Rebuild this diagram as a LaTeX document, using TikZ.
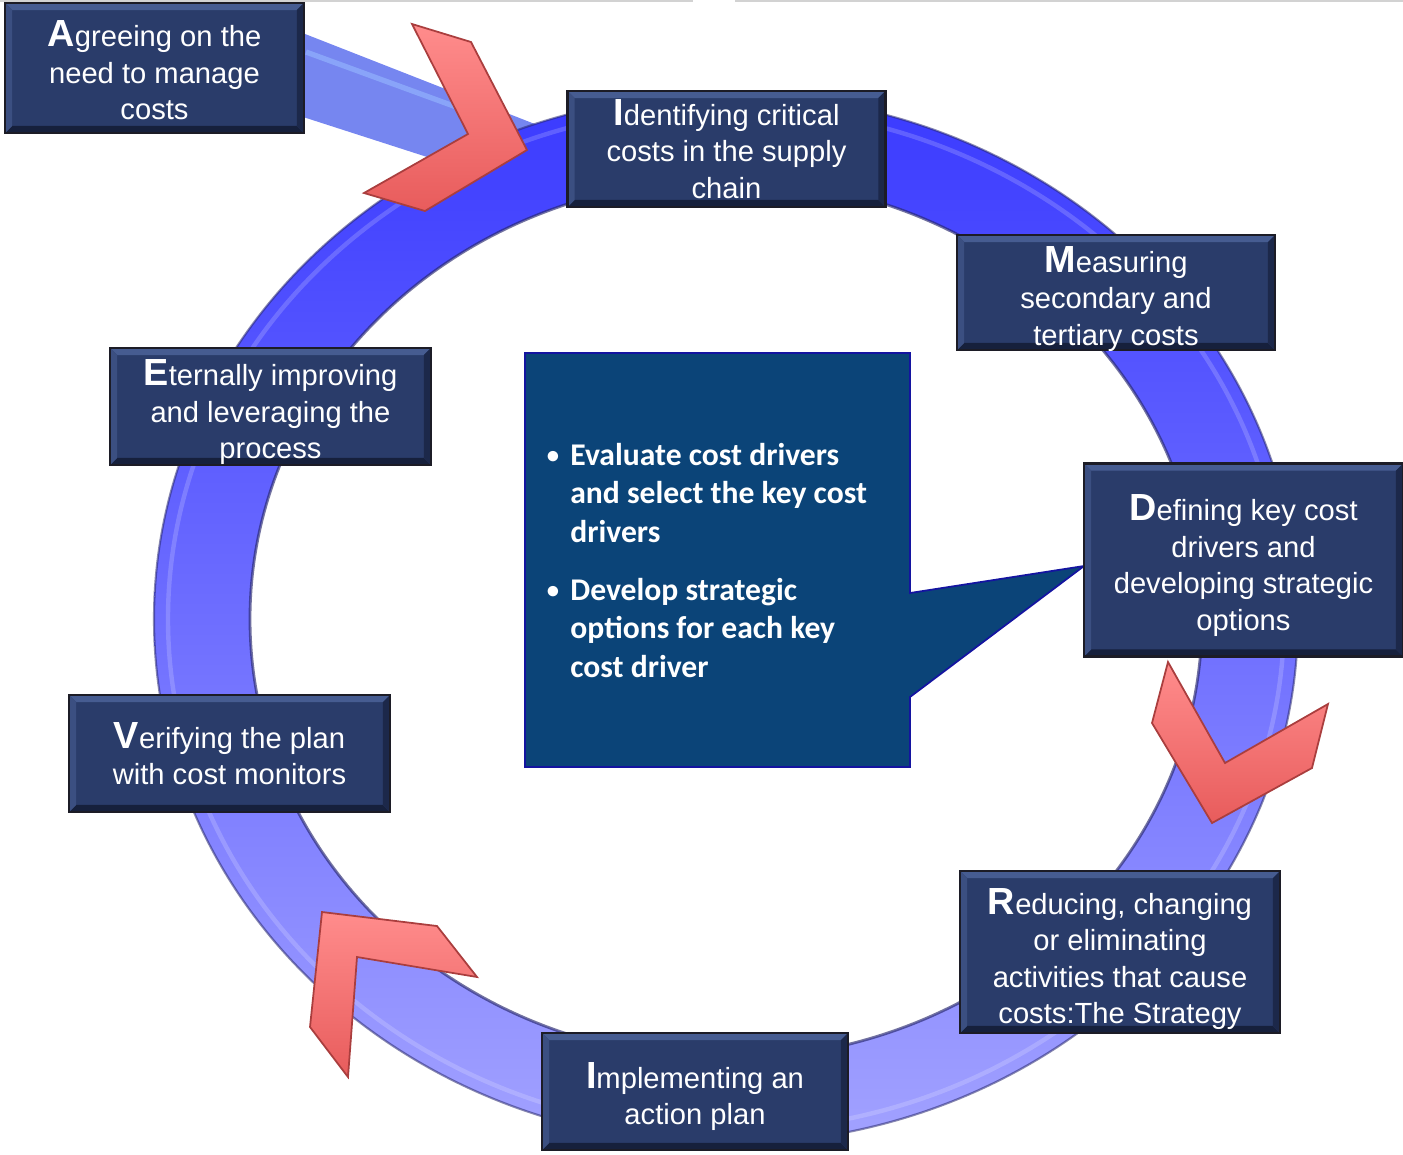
\documentclass[tikz,border=0pt]{standalone}
\usepackage{fontspec}
\setmainfont{Liberation Sans}
\newfontfamily\calib{Carlito}
\definecolor{boxblue}{RGB}{42,60,106}
\definecolor{boxhi}{RGB}{70,92,145}
\definecolor{boxlo}{RGB}{22,32,60}
\definecolor{boxedge}{RGB}{28,28,38}
\definecolor{calloutfill}{RGB}{11,68,120}
\definecolor{calloutedge}{RGB}{20,20,160}
\definecolor{chevlight}{RGB}{255,140,140}
\definecolor{chevdark}{RGB}{232,92,92}
\definecolor{chevedge}{RGB}{170,62,62}
\definecolor{ringtop}{RGB}{58,58,255}
\definecolor{ringmid}{RGB}{108,108,255}
\definecolor{ringbot}{RGB}{162,162,255}
\definecolor{ringedge}{RGB}{40,40,110}
\definecolor{bandfill}{RGB}{118,134,240}
\definecolor{bandhi}{RGB}{150,185,255}
\newcommand\initial[1]{{\fontsize{21.5}{20.8}\selectfont\bfseries #1}}
\tikzset{
  procbox/.style={draw=boxedge, line width=1.4pt, fill=boxblue, inner sep=0pt,
    path picture={
      \fill[boxhi] (path picture bounding box.north west) -- (path picture bounding box.north east)
        -- ([shift={(-4pt,-4pt)}]path picture bounding box.north east) -- ([shift={(4pt,-4pt)}]path picture bounding box.north west) -- cycle;
      \fill[boxlo] (path picture bounding box.south west) -- (path picture bounding box.south east)
        -- ([shift={(-4pt,4pt)}]path picture bounding box.south east) -- ([shift={(4pt,4pt)}]path picture bounding box.south west) -- cycle;
      \fill[boxlo!70!boxblue] (path picture bounding box.north east) -- (path picture bounding box.south east)
        -- ([shift={(-4pt,4pt)}]path picture bounding box.south east) -- ([shift={(-4pt,-4pt)}]path picture bounding box.north east) -- cycle;
      \fill[boxhi!60!boxblue] (path picture bounding box.north west) -- (path picture bounding box.south west)
        -- ([shift={(4pt,4pt)}]path picture bounding box.south west) -- ([shift={(4pt,-4pt)}]path picture bounding box.north west) -- cycle;
    }},
  boxtext/.style={text=white, align=center, inner sep=0pt, font=\fontsize{16.6}{20.8}\selectfont},
  chevron/.style={top color=chevlight, bottom color=chevdark, draw=chevedge, line width=1pt, line join=miter},
  bullettext/.style={text=white, align=left, anchor=north west, inner sep=0pt,
    font=\calib\bfseries\fontsize{18}{21.8}\selectfont},
  bulletdot/.style={text=white, inner sep=0pt, font=\calib\bfseries\fontsize{14}{16}\selectfont},
}
\begin{document}
\begin{tikzpicture}[x=0.02cm,y=-0.02cm]
\useasboundingbox (0,0) rectangle (1403,1154);
% top rule
\draw[gray!35, line width=1.2pt] (0,1) -- (693,1);
\draw[gray!35, line width=1.2pt] (735,1) -- (1403,1);
% tail band
\fill[bandfill] (300,32) -- (545,128) -- (545,195) -- (300,116) -- cycle;
\draw[bandhi, line width=3pt, opacity=0.6] (306,52) -- (470,112);
% ring
\shade[top color=ringtop, middle color=ringmid, bottom color=ringbot, even odd rule]
  (726,619) ellipse [x radius=572, y radius=525]
  (726,619) ellipse [x radius=476, y radius=440];
\draw[ringedge, line width=1.2pt, opacity=0.55] (726,619) ellipse [x radius=572, y radius=525];
\draw[ringedge, line width=1.6pt, opacity=0.65] (726,619) ellipse [x radius=476, y radius=440];
\draw[white, line width=2.5pt, opacity=0.18] (726,619) ellipse [x radius=558, y radius=512];
% callout
\filldraw[fill=calloutfill, draw=calloutedge, line width=1pt]
  (525,353) -- (910,353) -- (910,593) -- (1084,566) -- (910,697) -- (910,767) -- (525,767) -- cycle;
\node[bulletdot] (b1) at (553,457) {•};
\node[bulletdot] (b2) at (553,592) {•};
\node[bullettext] (t1) at (570,443) {Evaluate cost drivers\\and select the key cost\\drivers};
\node[bullettext] (t2) at (570,578) {Develop strategic\\options for each key\\cost driver};
% chevrons
\draw[chevron] (412,24) -- (471,42) -- (527,150) -- (425,211) -- (364,193) -- (468,134) -- cycle;
\draw[chevron] (1168,662) -- (1225,763) -- (1328,704) -- (1312,768) -- (1212,823) -- (1152,723) -- cycle;
\draw[chevron] (322,912) -- (437,926) -- (477,977) -- (357,957) -- (348,1077) -- (310,1027) -- cycle;
% boxes
\node[procbox, minimum width=5.98cm, minimum height=2.6cm] (a) at (154.5,68) {};
\node[boxtext, yshift=-1.4pt] (at) at (a) {\initial{A}greeing on the\\need to manage\\costs};
\node[procbox, minimum width=6.36cm, minimum height=2.32cm] (i) at (726.5,149) {};
\node[boxtext] (it) at (i) {\initial{I}dentifying critical\\costs in the supply\\chain};
\node[procbox, minimum width=6.36cm, minimum height=2.3cm] (m) at (1116,292.5) {};
\node[boxtext, yshift=-3.7pt] (mt) at (m) {\initial{M}easuring\\secondary and\\tertiary costs};
\node[procbox, minimum width=6.42cm, minimum height=2.34cm] (e) at (270.5,406.5) {};
\node[boxtext, yshift=-3.4pt] (et) at (e) {\initial{E}ternally improving\\and leveraging the\\process};
\node[procbox, minimum width=6.38cm, minimum height=3.86cm] (d) at (1243.5,560) {};
\node[boxtext, yshift=-3.1pt] (dt) at (d) {\initial{D}efining key cost\\drivers and\\developing strategic\\options};
\node[procbox, minimum width=6.42cm, minimum height=2.34cm] (v) at (229.5,753.5) {};
\node[boxtext] (vt) at (v) {\initial{V}erifying the plan\\with cost monitors};
\node[procbox, minimum width=6.4cm, minimum height=3.24cm] (r) at (1120,952) {};
\node[boxtext, yshift=-4pt] (rt) at (r) {\initial{R}educing, changing\\or eliminating\\activities that cause\\costs:The Strategy};
\node[procbox, minimum width=6.12cm, minimum height=2.34cm] (p) at (695,1091.5) {};
\node[boxtext, yshift=-2.8pt] (pt) at (p) {\initial{I}mplementing an\\action plan};
\end{tikzpicture}
\end{document}
